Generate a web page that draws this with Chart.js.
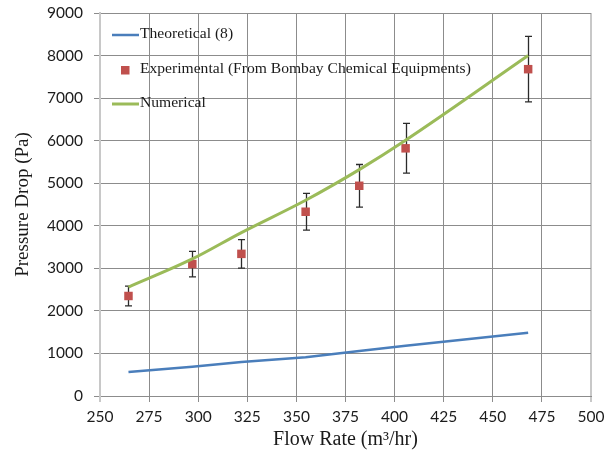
<!DOCTYPE html>
<html>
<head>
<meta charset="utf-8">
<script src="https://cdn.jsdelivr.net/npm/chart.js@4"></script>
<style>
  html, body { margin: 0; padding: 0; background: #fff; }
  canvas { display: block; }
</style>
</head>
<body>
<canvas id="c" width="608" height="454"></canvas>
<script>
// Flow rates (m³/hr) at which the pressure drop was evaluated
const flowRates = [264.5, 297, 322, 354.7, 382, 405.6, 468];
// Pressure drop (Pa) for each series
const theoretical = [563, 690, 800, 910, 1055, 1182, 1485];
const experimental = [2350, 3100, 3340, 4330, 4940, 5820, 7680];
const experimentalError = [233, 300, 335, 430, 500, 585, 770];
const numerical = [2560, 3220, 3840, 4600, 5320, 6010, 8000];

const seriesNames = ['Theoretical (8)', 'Experimental (From Bombay Chemical Equipments)', 'Numerical'];
const xTitle = 'Flow Rate (m³/hr)';
const yTitle = 'Pressure Drop (Pa)';

const COLORS = { theoretical: '#4a7ebb', experimental: '#c0504d', numerical: '#9bbb59' };
const GRID = '#8c8c8c';
const FRAME = '#c8c8c8';
const TICK_FONT = { family: 'Lato', size: 15.5 };
const TICK_COLOR = '#1c1c1c';
const SERIF = 'Liberation Serif';

const toPoints = ys => flowRates.map((x, i) => ({ x, y: ys[i] }));

// Vertical error bars for the experimental series, drawn beneath the markers
const errorBars = {
  id: 'errorBars',
  beforeDatasetsDraw(chart) {
    const { ctx, scales: { x, y } } = chart;
    ctx.save();
    ctx.strokeStyle = '#2b2b2b';
    ctx.lineWidth = 1.3;
    experimental.forEach((v, i) => {
      const px = Math.round(x.getPixelForValue(flowRates[i])) + 0.5;
      const top = y.getPixelForValue(v + experimentalError[i]);
      const bot = y.getPixelForValue(v - experimentalError[i]);
      ctx.beginPath();
      ctx.moveTo(px, top); ctx.lineTo(px, bot);
      ctx.moveTo(px - 3.5, top); ctx.lineTo(px + 3.5, top);
      ctx.moveTo(px - 3.5, bot); ctx.lineTo(px + 3.5, bot);
      ctx.stroke();
    });
    ctx.restore();
  }
};

// Legend placed inside the plot area, top-left
const insideLegend = {
  id: 'insideLegend',
  afterDraw(chart) {
    const { ctx, chartArea } = chart;
    const x0 = chartArea.left + 12;
    const rows = [chartArea.top + 22, chartArea.top + 57, chartArea.top + 91];
    ctx.save();
    ctx.font = `15.6px "${SERIF}"`;
    ctx.textBaseline = 'middle';
    ctx.textAlign = 'left';
    // line swatches
    ctx.lineWidth = 2.5;
    ctx.strokeStyle = COLORS.theoretical;
    ctx.beginPath(); ctx.moveTo(x0, rows[0]); ctx.lineTo(x0 + 27, rows[0]); ctx.stroke();
    ctx.lineWidth = 3;
    ctx.strokeStyle = COLORS.numerical;
    ctx.beginPath(); ctx.moveTo(x0, rows[2]); ctx.lineTo(x0 + 27, rows[2]); ctx.stroke();
    // marker swatch
    ctx.fillStyle = COLORS.experimental;
    ctx.fillRect(x0 + 9, rows[1] - 4, 8.5, 8.5);
    ctx.fillStyle = '#1a1a1a';
    seriesNames.forEach((name, i) => ctx.fillText(name, x0 + 28, rows[i] - 1));
    ctx.restore();
  }
};

const edgeTick = v => v === 250 || v === 500;

new Chart(document.getElementById('c'), {
  type: 'scatter',
  data: {
    datasets: [
      {
        label: seriesNames[0],
        data: toPoints(theoretical),
        showLine: true,
        borderColor: COLORS.theoretical,
        borderWidth: 2.5,
        pointRadius: 0,
        order: 3
      },
      {
        label: seriesNames[1],
        data: toPoints(experimental),
        showLine: false,
        pointStyle: 'rect',
        pointRadius: 6,
        backgroundColor: COLORS.experimental,
        borderColor: COLORS.experimental,
        borderWidth: 0,
        order: 2
      },
      {
        label: seriesNames[2],
        data: toPoints(numerical),
        showLine: true,
        borderColor: COLORS.numerical,
        borderWidth: 3,
        pointRadius: 0,
        cubicInterpolationMode: 'monotone',
        order: 1
      }
    ]
  },
  options: {
    responsive: false,
    animation: false,
    layout: { padding: { top: 13, right: 17, left: 0, bottom: 0 } },
    plugins: { legend: { display: false }, tooltip: { enabled: false } },
    scales: {
      x: {
        type: 'linear',
        position: 'bottom',
        min: 250,
        max: 500,
        afterFit: s => { s.height = 58; s.paddingLeft = 0; s.paddingRight = 0; },
        ticks: { stepSize: 25, font: TICK_FONT, color: TICK_COLOR, padding: 6, maxRotation: 0 },
        grid: {
          color: c => (c.tick && edgeTick(c.tick.value)) ? FRAME : GRID,
          lineWidth: c => (c.tick && edgeTick(c.tick.value)) ? 2 : 1,
          tickLength: 6
        },
        border: { color: GRID, width: 1 },
        title: {
          display: true,
          text: xTitle,
          font: { family: SERIF, size: 20 },
          color: '#1a1a1a',
          padding: { top: 0, bottom: 2 }
        }
      },
      y: {
        min: 0,
        max: 9000,
        afterFit: s => { s.width = 100; s.paddingTop = 0; s.paddingBottom = 0; },
        ticks: {
          stepSize: 1000,
          font: TICK_FONT,
          color: TICK_COLOR,
          padding: 11,
          callback: v => String(v)
        },
        grid: { color: GRID, lineWidth: 1, tickLength: 6 },
        border: { color: FRAME, width: 2 },
        title: {
          display: true,
          text: yTitle,
          font: { family: SERIF, size: 19 },
          color: '#1a1a1a',
          padding: { top: 12, bottom: 0 }
        }
      }
    }
  },
  plugins: [errorBars, insideLegend]
});
</script>
</body>
</html>
